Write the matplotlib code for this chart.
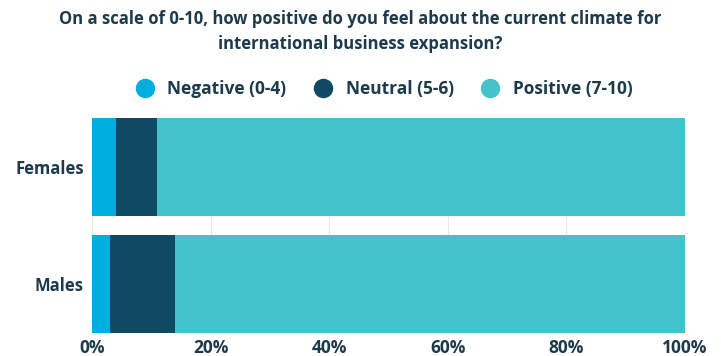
import matplotlib
matplotlib.use("Agg")
import matplotlib.pyplot as plt
from matplotlib.lines import Line2D
import numpy as np

groups = ["Males", "Females"]
series = ["Negative (0-4)", "Neutral (5-6)", "Positive (7-10)"]
negative = [3, 4]
neutral = [11, 7]
positive = [86, 89]
colors = ["#00aee0", "#0e4a61", "#45c3cc"]
ticks = [0, 20, 40, 60, 80, 100]

ink = "#1c3a4c"
plt.rcParams["font.family"] = ["Open Sans", "DejaVu Sans"]
plt.rcParams["font.weight"] = "bold"

fig = plt.figure(figsize=(7.21, 3.56), dpi=100)
ax = fig.add_axes([92 / 721, 1 - 333 / 356, 593 / 721, 215 / 356])

y = np.arange(len(groups))
left = np.zeros(len(groups))
for vals, col in zip([negative, neutral, positive], colors):
    ax.barh(y, vals, left=left, height=0.84, color=col, zorder=2)
    left += np.array(vals)

ax.set_xlim(0, 100)
ax.set_ylim(-0.42, 1.42)
ax.set_xticks(ticks)
ax.set_xticklabels([f"{t}%" for t in ticks], fontsize=12.5, fontweight="bold", color=ink)
ax.set_yticks(y)
ax.set_yticklabels(groups, fontsize=12, fontweight="bold", color=ink)
ax.tick_params(length=0, pad=6)
ax.tick_params(axis="x", pad=4)
ax.grid(axis="x", color="#e8e8e8", linewidth=0.8, zorder=0)
for s in ax.spines.values():
    s.set_visible(False)

fig.text(0.5, 1 - 19 / 356, "On a scale of 0-10, how positive do you feel about the current climate for",
         ha="center", va="center", fontsize=12, fontweight="bold", color=ink)
fig.text(0.5, 1 - 44 / 356, "international business expansion?",
         ha="center", va="center", fontsize=12, fontweight="bold", color=ink)

handles = [Line2D([], [], marker="o", linestyle="", markersize=13, color=c) for c in colors]
fig.legend(handles, series, loc="center", bbox_to_anchor=(380 / 721, 1 - 89 / 356), ncol=3,
           frameon=False, handletextpad=0.3, columnspacing=1.1,
           prop={"size": 12.5, "weight": "bold"}, labelcolor=ink)

fig.savefig("out.png", dpi=100)
